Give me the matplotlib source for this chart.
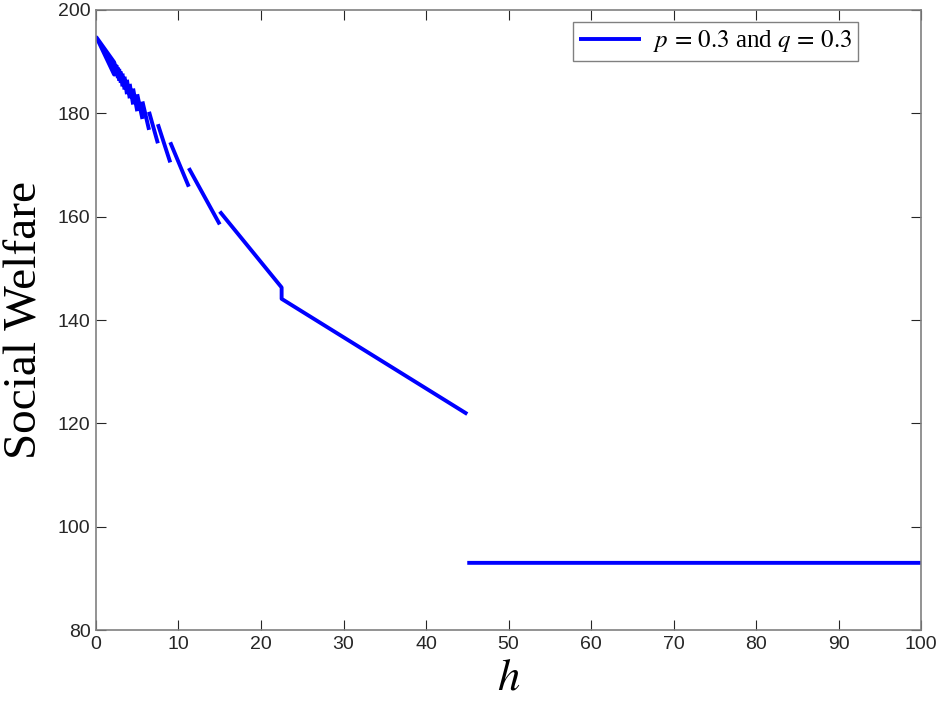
import matplotlib
matplotlib.use("Agg")
import numpy as np
import matplotlib.pyplot as plt

plt.rcParams['mathtext.fontset'] = 'stix'

# sawtooth pieces (h where a piece starts / ends and the welfare there)
seg_h0 = [22.5, 15, 11.25, 9, 7.5, 6.43, 5.63, 5.0, 4.5, 4.09, 3.75, 3.46, 3.21, 3.0,
          2.81, 2.65, 2.5, 2.37, 2.25, 2.14]
seg_h1 = [45, 22.5, 15, 11.25, 9, 7.5, 6.43, 5.63, 5.0, 4.5, 4.09, 3.75, 3.46, 3.21,
          3.0, 2.81, 2.65, 2.5, 2.37, 2.25]
seg_w0 = [144.1, 161.0, 169.4, 174.4, 177.9, 180.3, 182.3, 183.7, 184.8, 185.7, 186.5,
          187.1, 187.7, 188.1, 188.6, 188.9, 189.3, 189.5, 189.8, 190.0]
seg_w1 = [121.8, 146.3, 158.5, 165.8, 170.5, 174.2, 176.8, 178.9, 180.4, 181.7, 182.9,
          183.7, 184.6, 185.2, 185.9, 186.3, 186.8, 187.2, 187.6, 187.9]

# dense teeth near h = 0 (drawn as a band)
band_h = [0, 2.14]
band_top = [194.8, 190.0]
band_bot = [194.8, 187.6]

# flat part after h = 45
flat_h = [45, 100]
flat_w = [93.0, 93.0]

blue = '#0000ff'
axcol = '#808080'

fig = plt.figure(figsize=(9.41, 7.09), dpi=100)
ax = fig.add_axes([0.102, 0.1114, 0.8768, 0.8745])

# build one line, pieces split by NaN (first two pieces are joined in the picture)
xs, ys = [], []
for i in range(len(seg_h0)):
    if i == 1:
        xs = [seg_h0[i], seg_h1[i]] + xs
        ys = [seg_w0[i], seg_w1[i]] + ys
        continue
    if i > 1:
        xs += [np.nan]
        ys += [np.nan]
    xs += [seg_h0[i], seg_h1[i]]
    ys += [seg_w0[i], seg_w1[i]]
xs += [np.nan] + flat_h
ys += [np.nan] + flat_w

line, = ax.plot(xs, ys, color=blue, lw=2.8, solid_capstyle='butt',
                label=r'$p\,=\,0.3$ and $q\,=\,0.3$')
ax.fill_between(band_h, band_bot, band_top, color=blue, lw=2.8, edgecolor=blue)

ax.set_xlim(0, 100)
ax.set_ylim(80, 200)
ax.set_xticks(np.arange(0, 101, 10))
ax.set_yticks(np.arange(80, 201, 20))

for s in ax.spines.values():
    s.set_color(axcol)
    s.set_linewidth(1.2)
ax.tick_params(direction='in', length=7, width=0.8, color='#262626',
               labelsize=14, labelcolor='#262626', top=True, right=True, pad=4)
for t in ax.get_xticklabels() + ax.get_yticklabels():
    t.set_fontfamily('Liberation Sans')

ax.set_ylabel('Social Welfare', fontsize=34, fontfamily='Liberation Serif', labelpad=8)
ax.set_xlabel('$h$', fontsize=32, labelpad=2)

leg = ax.legend(loc='upper right', bbox_to_anchor=(0.9236, 0.9806), borderaxespad=0,
                handlelength=2.5, fancybox=False, edgecolor=axcol, framealpha=1,
                borderpad=0.25, handletextpad=0.45,
                prop={'family': 'Liberation Serif', 'size': 18})
leg.get_frame().set_linewidth(1.0)

fig.savefig('out.png', dpi=100)
